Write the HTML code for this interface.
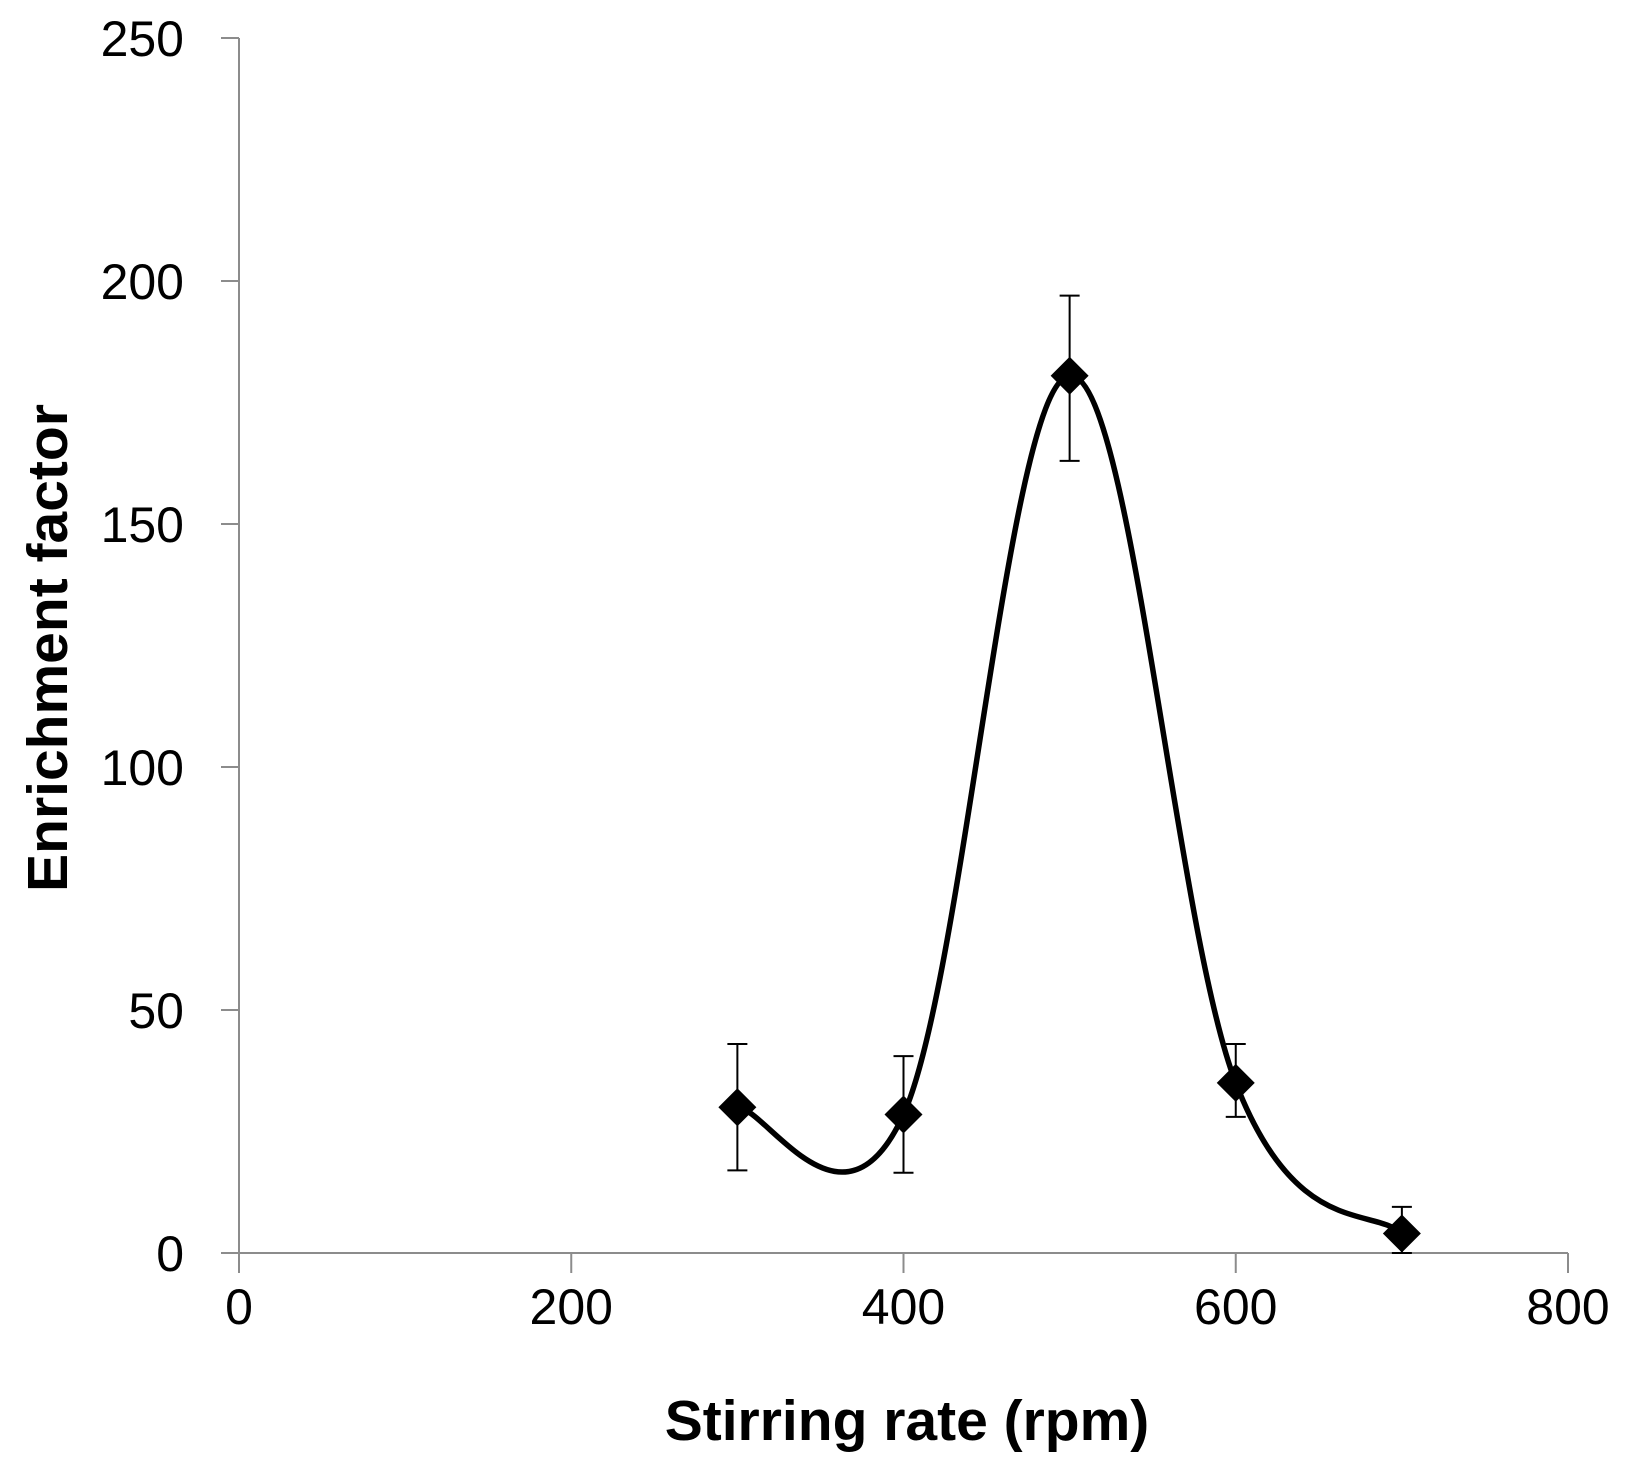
<!DOCTYPE html>
<html><head><meta charset="utf-8"><style>
html,body{margin:0;padding:0;background:#fff;}
svg{display:block;}
text{font-family:"Liberation Sans",sans-serif;fill:#000;}
</style></head><body>
<svg id="chart" width="1630" height="1465" viewBox="0 0 1630 1465">
<g id="axes"></g>
<g id="series"></g>
<text x="907" y="1440" font-size="57" font-weight="bold" text-anchor="middle">Stirring rate (rpm)</text>
<text transform="translate(67,648) rotate(-90)" font-size="57" font-weight="bold" text-anchor="middle">Enrichment factor</text>
</svg>
<script>
const xTicks=[0,200,400,600,800];
const yTicks=[0,50,100,150,200,250];
const xVals=[300,400,500,600,700];
const yVals=[30,28.5,180.5,35,4];
const errUp=[13,12,16.5,8,5.5];
const errDown=[13,12,17.5,7,4];
const NS="http://www.w3.org/2000/svg";
const X0=239,X1=1568,Y0=1253,Y1=38;
const sx=v=>X0+(v-0)/(800-0)*(X1-X0);
const sy=v=>Y0-(v-0)/(250-0)*(Y0-Y1);
function mk(tag,attrs,parent){const e=document.createElementNS(NS,tag);for(const k in attrs)e.setAttribute(k,attrs[k]);parent.appendChild(e);return e;}
const axes=document.getElementById('axes'),ser=document.getElementById('series');
let l=mk('line',{x1:X0,y1:Y1,x2:X0,y2:Y0,stroke:'#8c8c8c','stroke-width':2},axes);


l=mk('line',{x1:X0-18,y1:Y0,x2:X1,y2:Y0,stroke:'#8c8c8c','stroke-width':2},axes);


yTicks.forEach(t=>{
 const y=sy(t);
 const tk=mk('line',{x1:X0-18,y1:y,x2:X0,y2:y,stroke:'#8c8c8c','stroke-width':2},axes);
 
 
 const tx=mk('text',{x:184,y:y+18,'font-size':50,'text-anchor':'end'},axes);
 tx.textContent=t;
 
 
});
xTicks.forEach(t=>{
 const x=sx(t);
 const tk=mk('line',{x1:x,y1:Y0,x2:x,y2:Y0+20,stroke:'#8c8c8c','stroke-width':2},axes);
 
 
 const tx=mk('text',{x:x,y:1324,'font-size':50,'text-anchor':'middle'},axes);
 tx.textContent=t;
 
 
});
const P=xVals.map((v,i)=>[sx(v),sy(yVals[i])]);
const k=1/5.5;
let d=`M${P[0][0]},${P[0][1]}`;
for(let i=0;i<P.length-1;i++){
 const p0=P[Math.max(0,i-1)],p1=P[i],p2=P[i+1],p3=P[Math.min(P.length-1,i+2)];
 const c1=[p1[0]+(p2[0]-p0[0])*k,p1[1]+(p2[1]-p0[1])*k];
 const c2=[p2[0]-(p3[0]-p1[0])*k,p2[1]-(p3[1]-p1[1])*k];
 d+=` C${c1[0]},${c1[1]} ${c2[0]},${c2[1]} ${p2[0]},${p2[1]}`;
}
const path=mk('path',{d:d,fill:'none',stroke:'#000','stroke-width':5.5},ser);


xVals.forEach((v,i)=>{
 const x=sx(v),yt=sy(yVals[i]+errUp[i]),yb=sy(yVals[i]-errDown[i]);
 const eb=mk('path',{d:`M${x},${yt}V${yb}M${x-10},${yt}H${x+10}M${x-10},${yb}H${x+10}`,stroke:'#000','stroke-width':2,fill:'none'},ser);
 
 
});
P.forEach(p=>{
 const s=19;
 const m=mk('polygon',{points:`${p[0]},${p[1]-s} ${p[0]+s},${p[1]} ${p[0]},${p[1]+s} ${p[0]-s},${p[1]}`,fill:'#000'},ser);
 
 
});
</script>
</body></html>
